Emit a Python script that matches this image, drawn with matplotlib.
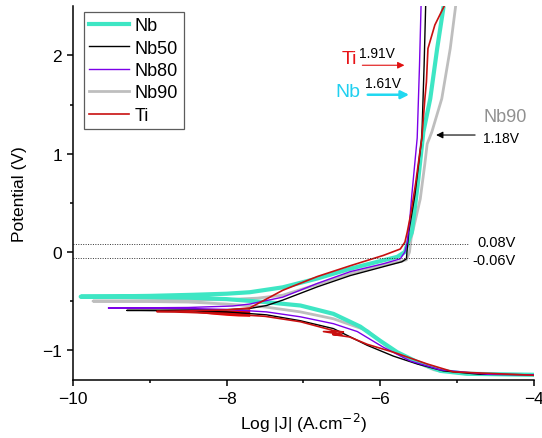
import matplotlib
matplotlib.use("Agg")
import matplotlib.pyplot as plt

plt.rcParams['font.family'] = ['Liberation Sans', 'DejaVu Sans']

# ---------------- data (log|J|, E) ----------------
# each path: cathodic branch from -4 down to the tip, then anodic branch up

nb_logj = [-4.0, -4.87, -5.22, -5.52, -5.78, -6.0, -6.26, -6.61, -7.04, -7.5, -8.0, -8.5, -9.0, -9.5, -9.9,
           -9.5, -9.0, -8.44, -8.0, -7.7, -7.27, -6.82, -6.39, -5.96, -5.78, -5.68, -5.64, -5.59, -5.51,
           -5.44, -5.35, -5.26, -5.18]
nb_e = [-1.25, -1.24, -1.21, -1.12, -1.02, -0.905, -0.76, -0.63, -0.545, -0.51, -0.48, -0.465, -0.46, -0.457, -0.455,
        -0.452, -0.447, -0.436, -0.425, -0.41, -0.36, -0.27, -0.17, -0.085, -0.05, 0.0, 0.10, 0.20, 0.71,
        1.22, 1.56, 2.07, 2.48]

nb50_logj = [-4.0, -4.7, -5.18, -5.52, -5.83, -6.17, -6.61, -7.04, -7.48, -8.0, -8.5, -9.0, -9.3,
             -9.0, -8.5, -8.0, -7.7, -7.48, -7.27, -6.82, -6.39, -5.96, -5.72, -5.66, -5.65, -5.63, -5.55,
             -5.46, -5.43, -5.41]
nb50_e = [-1.25, -1.245, -1.21, -1.14, -1.06, -0.95, -0.78, -0.70, -0.64, -0.61, -0.60, -0.597, -0.595,
          -0.593, -0.59, -0.587, -0.575, -0.545, -0.49, -0.355, -0.24, -0.15, -0.10, -0.07, 0.03, 0.2, 0.58,
          1.16, 1.9, 2.5]

nb80_logj = [-4.0, -4.6, -5.22, -5.61, -5.96, -6.3, -6.61, -7.04, -7.48, -8.0, -8.5, -9.0, -9.54,
             -9.0, -8.5, -7.92, -7.7, -7.27, -6.82, -6.39, -5.96, -5.74, -5.68, -5.65, -5.62, -5.59,
             -5.52, -5.49, -5.47]
nb80_e = [-1.25, -1.245, -1.20, -1.11, -0.97, -0.81, -0.73, -0.66, -0.61, -0.585, -0.575, -0.572, -0.57,
          -0.568, -0.565, -0.55, -0.53, -0.46, -0.32, -0.20, -0.12, -0.07, 0.0, 0.10, 0.3, 0.58,
          1.16, 1.9, 2.5]

nb90_logj = [-4.0, -4.9, -5.3, -5.6, -5.87, -6.17, -6.61, -7.04, -7.5, -8.0, -8.5, -9.0, -9.74,
             -9.0, -8.5, -8.0, -7.6, -7.27, -6.82, -6.39, -5.96, -5.75, -5.66, -5.62, -5.6, -5.48,
             -5.42, -5.39, -5.33, -5.2, -5.09, -5.02]
nb90_e = [-1.25, -1.24, -1.20, -1.10, -0.99, -0.80, -0.68, -0.61, -0.56, -0.53, -0.51, -0.505, -0.50,
          -0.495, -0.49, -0.485, -0.47, -0.44, -0.33, -0.22, -0.13, -0.10, -0.08, 0.0, 0.135, 0.54,
          0.9, 1.10, 1.22, 1.56, 2.07, 2.5]

ti_logj = [-4.0, -5.05, -5.39, -5.83, -6.17, -6.4, -6.62, -6.5, -6.74, -6.48, -6.61, -7.04, -7.5,
           -8.0, -8.5, -8.91,
           -8.5, -8.0, -7.7, -7.27, -6.82, -6.39, -5.96, -5.74, -5.68, -5.65, -5.6, -5.54,
           -5.46, -5.42, -5.4, -5.38, -5.29, -5.17]
ti_e = [-1.255, -1.22, -1.14, -1.02, -0.94, -0.865, -0.84, -0.84, -0.81, -0.815, -0.80, -0.71, -0.655,
        -0.63, -0.615, -0.606,
        -0.60, -0.59, -0.57, -0.39, -0.25, -0.14, -0.035, 0.03, 0.10, 0.2, 0.4, 0.7,
        1.16, 1.56, 1.73, 2.07, 2.31, 2.5]

# noisy band of the Ti curve near its corrosion potential
ti_band_logj = [-8.4, -8.2, -8.0, -7.85, -7.7]
ti_band_top = [-0.603, -0.598, -0.592, -0.585, -0.578]
ti_band_bot = [-0.615, -0.632, -0.645, -0.652, -0.655]

labels = ["Nb", "Nb50", "Nb80", "Nb90", "Ti"]
colors = ["#3EE6C4", "#000000", "#7B00E8", "#BEBEBE", "#C81010"]
widths = [3.0, 1.0, 1.0, 2.0, 1.2]

# passivation potentials (dotted lines)
e_pass = [0.08, -0.06]

# ---------------- figure ----------------
fig = plt.figure(figsize=(5.42, 4.39), dpi=100)
ax = fig.add_axes([0.1347, 0.1328, 0.8505, 0.8506])

series = [(nb_logj, nb_e), (nb50_logj, nb50_e), (nb80_logj, nb80_e),
          (nb90_logj, nb90_e), (ti_logj, ti_e)]
# draw grey/teal first so thin lines stay visible on top
order = [3, 0, 1, 2, 4]
handles = {}
for i in order:
    x, y = series[i]
    h, = ax.plot(x, y, color=colors[i], lw=widths[i], label=labels[i],
                 solid_joinstyle="round")
    handles[i] = h

ax.fill_between(ti_band_logj, ti_band_bot, ti_band_top, color="#F00000", lw=0)

for e in e_pass:
    ax.plot([-10, -4.86], [e, e], color="#333333", lw=0.7, ls=(0, (1, 1.5)))

ax.text(-4.74, 0.105, "0.08V", fontsize=10.5, va="center", ha="left")
ax.text(-4.80, -0.085, "-0.06V", fontsize=10.5, va="center", ha="left")

# arrows and labels
ax.annotate("", xy=(-5.65, 1.90), xytext=(-6.27, 1.90),
            arrowprops=dict(arrowstyle="-|>", color="#E01010", lw=0.8, mutation_scale=10))
ax.text(-6.50, 1.97, "Ti", color="#E81418", fontsize=14, va="center", ha="left")
ax.text(-6.28, 2.02, "1.91V", fontsize=10, va="center", ha="left")

ax.annotate("", xy=(-5.59, 1.60), xytext=(-6.20, 1.60),
            arrowprops=dict(arrowstyle="-|>", color="#20D8F0", lw=1.8, mutation_scale=12))
ax.text(-6.59, 1.63, "Nb", color="#20D0F0", fontsize=14, va="center", ha="left")
ax.text(-6.20, 1.72, "1.61V", fontsize=10, va="center", ha="left")

ax.annotate("", xy=(-5.31, 1.19), xytext=(-4.73, 1.19),
            arrowprops=dict(arrowstyle="-|>", color="#000000", lw=0.8, mutation_scale=10))
ax.text(-4.66, 1.38, "Nb90", color="#909090", fontsize=13, va="center", ha="left")
ax.text(-4.66, 1.155, "1.18V", fontsize=10, va="center", ha="left")

ax.set_xlim(-10, -4)
ax.set_ylim(-1.3, 2.5)
ax.set_xticks([-10, -8, -6, -4])
ax.set_xticks([-9, -7, -5], minor=True)
ax.set_yticks([-1, 0, 1, 2])
ax.set_yticks([-0.5, 0.5, 1.5], minor=True)
ax.tick_params(which="major", direction="out", length=4.5, width=1.1, labelsize=12.5)
ax.tick_params(which="minor", direction="out", length=2.5, width=1.1)

ax.spines["top"].set_visible(False)
ax.spines["right"].set_visible(False)
ax.spines["left"].set_linewidth(1.1)
ax.spines["bottom"].set_linewidth(1.1)

ax.set_xlabel("Log |J| (A.cm$^{-2}$)", fontsize=12.5, labelpad=4)
ax.set_ylabel("Potential (V)", fontsize=12.5, labelpad=11)

leg = ax.legend([handles[i] for i in range(5)], labels, loc="upper left",
                bbox_to_anchor=(0.015, 0.995), fontsize=13, frameon=True,
                fancybox=False, edgecolor="#333333", handlelength=2.2,
                handletextpad=0.35, borderpad=0.3, labelspacing=0.3, borderaxespad=0.2)
leg.get_frame().set_linewidth(0.9)

fig.savefig("out.png", dpi=100, facecolor="white")
